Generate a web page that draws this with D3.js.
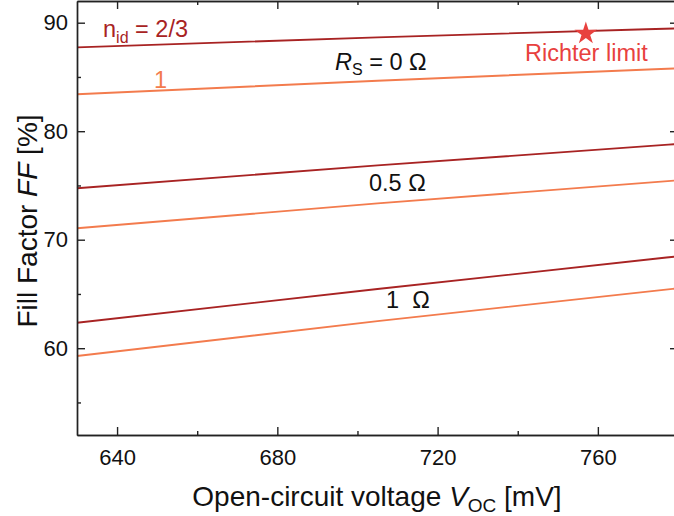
<!DOCTYPE html>
<html>
<head>
<meta charset="utf-8">
<script src="https://cdn.jsdelivr.net/npm/d3@7"></script>
<style>
  html, body { margin: 0; padding: 0; background: #fff; }
  svg { display: block; font-family: "Liberation Sans", Arial, sans-serif; }
</style>
</head>
<body>
<svg id="chart" width="674" height="516"></svg>
<script>
// Open-circuit voltage sample points [mV]
const voc = [630, 705, 780];

// Fill factor [%] for ideality factor 2/3 and 1, at three series resistances
const ffN23Rs0   = [87.73, 88.65, 89.48];
const ffN1Rs0    = [83.40, 84.65, 85.80];
const ffN23Rs05  = [74.74, 76.85, 78.82];
const ffN1Rs05   = [71.05, 73.35, 75.47];
const ffN23Rs1   = [62.35, 65.45, 68.47];
const ffN1Rs1    = [59.28, 62.50, 65.52];

// Richter limit point [Voc mV, FF %]
const richter = [757, 89.0];

// Axis ticks
const xMajor = [640, 680, 720, 760];
const xMinor = [660, 700, 740, 780];
const yMajor = [60, 70, 80, 90];
const yMinor = [55, 65, 75, 85];

const colDark = "#a82323";
const colLight = "#f37b4d";
const colRed = "#e8413e";

const svg = d3.select("#chart");
const m = { left: 77, top: 1, right: 678, bottom: 435 };

const x = d3.scaleLinear().domain([630, 780]).range([m.left, m.right]);
const y = d3.scaleLinear().domain([52, 92]).range([m.bottom, m.top]);

const series = [
  { v: ffN23Rs0,  c: colDark },
  { v: ffN1Rs0,   c: colLight },
  { v: ffN23Rs05, c: colDark },
  { v: ffN1Rs05,  c: colLight },
  { v: ffN23Rs1,  c: colDark },
  { v: ffN1Rs1,   c: colLight }
];

const line = d3.line()
  .x((d, i) => x(voc[i]))
  .y(d => y(d))
  .curve(d3.curveMonotoneX);

const plot = svg.append("g");
plot.selectAll("path.ff")
  .data(series)
  .join("path")
  .attr("class", "ff")
  .attr("fill", "none")
  .attr("stroke", d => d.c)
  .attr("stroke-width", 1.9)
  .attr("d", d => line(d.v));

// Axes with inward-pointing ticks
function styleAxis(g) {
  g.select(".domain").attr("stroke", "#222").attr("stroke-width", 1.4);
  g.selectAll(".tick line").attr("stroke", "#222").attr("stroke-width", 1.4);
  g.selectAll(".tick text").attr("fill", "#111").attr("font-size", 22)
    .attr("font-family", "Liberation Sans, Arial, sans-serif");
}

// bottom
svg.append("g").attr("transform", `translate(0,${m.bottom})`)
  .call(d3.axisBottom(x).tickValues(xMajor).tickSize(-8).tickPadding(14).tickSizeOuter(0).tickFormat(d3.format("d")))
  .call(styleAxis);
svg.append("g").attr("transform", `translate(0,${m.bottom})`)
  .call(d3.axisBottom(x).tickValues(xMinor).tickSize(-4).tickSizeOuter(0).tickFormat(""))
  .call(styleAxis);
// top
svg.append("g").attr("transform", `translate(0,${m.top})`)
  .call(d3.axisTop(x).tickValues(xMajor).tickSize(-8).tickSizeOuter(0).tickFormat(""))
  .call(styleAxis);
svg.append("g").attr("transform", `translate(0,${m.top})`)
  .call(d3.axisTop(x).tickValues(xMinor).tickSize(-4).tickSizeOuter(0).tickFormat(""))
  .call(styleAxis);
// left
svg.append("g").attr("transform", `translate(${m.left},0)`)
  .call(d3.axisLeft(y).tickValues(yMajor).tickSize(-8).tickPadding(9).tickSizeOuter(0).tickFormat(d3.format("d")))
  .call(styleAxis);
svg.append("g").attr("transform", `translate(${m.left},0)`)
  .call(d3.axisLeft(y).tickValues(yMinor).tickSize(-4).tickSizeOuter(0).tickFormat(""))
  .call(styleAxis);
// right
svg.append("g").attr("transform", `translate(${m.right},0)`)
  .call(d3.axisRight(y).tickValues(yMajor).tickSize(-8).tickSizeOuter(0).tickFormat(""))
  .call(styleAxis);

// Axis titles
const xt = svg.append("text")
  .attr("x", 377).attr("y", 506)
  .attr("text-anchor", "middle")
  .attr("font-size", 28).attr("fill", "#111");
xt.append("tspan").text("Open-circuit voltage ");
xt.append("tspan").attr("font-style", "italic").text("V");
xt.append("tspan").attr("font-size", 19).attr("dy", 6).text("OC");
xt.append("tspan").attr("dy", -6).text(" [mV]");

const yt = svg.append("text")
  .attr("transform", "translate(37,221) rotate(-90)")
  .attr("text-anchor", "middle")
  .attr("font-size", 28).attr("fill", "#111");
yt.append("tspan").text("Fill Factor ");
yt.append("tspan").attr("font-style", "italic").text("FF");
yt.append("tspan").text(" [%]");

// In-plot annotations
const nid = svg.append("text").attr("x", 103).attr("y", 37)
  .attr("font-size", 23.5).attr("fill", colDark);
nid.append("tspan").text("n");
nid.append("tspan").attr("font-size", 16).attr("dy", 6).text("id");
nid.append("tspan").attr("dy", -6).text(" = 2/3");

svg.append("text").attr("x", 154).attr("y", 88)
  .attr("font-size", 23.5).attr("fill", colLight).text("1");

const rs = svg.append("text").attr("x", 335).attr("y", 70)
  .attr("font-size", 23.5).attr("fill", "#111");
rs.append("tspan").attr("font-style", "italic").text("R");
rs.append("tspan").attr("font-size", 16).attr("dy", 5).text("S");
rs.append("tspan").attr("dy", -5).text(" = 0 Ω");

svg.append("text").attr("x", 369).attr("y", 191)
  .attr("font-size", 23.5).attr("fill", "#111").text("0.5 Ω");
svg.append("text").attr("x", 386).attr("y", 308)
  .attr("font-size", 23.5).attr("fill", "#111")
  .style("white-space", "pre").text("1  Ω");

svg.append("path")
  .attr("d", d3.symbol(d3.symbolStar, 160)())
  .attr("transform", `translate(${x(richter[0])},${y(richter[1])})`)
  .attr("fill", colRed);

svg.append("text").attr("x", 525).attr("y", 61)
  .attr("font-size", 23.5).attr("fill", colRed).text("Richter limit");
</script>
</body>
</html>
